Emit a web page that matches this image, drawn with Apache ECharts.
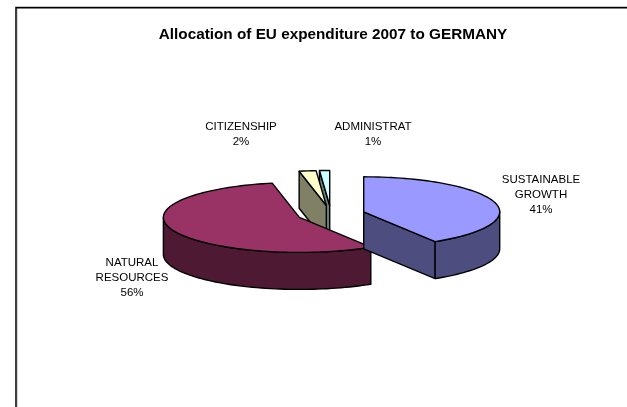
<!DOCTYPE html>
<html>
<head>
<meta charset="utf-8">
<style>html,body{margin:0;padding:0;background:#fff}#c{width:627px;height:407px}</style>
<script src="https://cdn.jsdelivr.net/npm/echarts@6/dist/echarts.min.js"></script>
</head>
<body>
<div id="c"></div>
<script>
// Data (labels show the rounded share)
var titleText = 'Allocation of EU expenditure 2007 to GERMANY';
var categories = ['SUSTAINABLE\nGROWTH', 'NATURAL\nRESOURCES', 'CITIZENSHIP', 'ADMINISTRAT'];
var shares = [41.2, 55.6, 2.0, 1.2];
// Styling and layout
var topColors = ['#9999FF', '#993366', '#FFFFCC', '#CCFFFF'];
var sideColors = ['#4D4D80', '#4D1933', '#808066', '#668080'];
var labelCentres = [[541, 180], [132, 263], [241, 127], [373, 127]];
var drawOrder = [3, 2, 1, 0];   // index -> stacking level
var PIE = {cx: 331, cy: 214.2, rx: 136, ry: 35, depth: 37, explode: 0.25};
var LINE_H = 14.7;

var total = shares.reduce(function (a, b) { return a + b; }, 0);
function rad(d) { return d * Math.PI / 180; }
function point(c, deg, dy) {
  return [c[0] + PIE.rx * Math.sin(rad(deg)), c[1] - PIE.ry * Math.cos(rad(deg)) + (dy || 0)];
}
function arc(c, a, b, dy) {
  var pts = [], n = Math.max(2, Math.ceil(Math.abs(b - a) / 2));
  for (var i = 0; i <= n; i++) pts.push(point(c, a + (b - a) * i / n, dy));
  return pts;
}
function poly(pts, fill, z) {
  return {type: 'polygon', z2: z, shape: {points: pts},
    style: {fill: fill, stroke: '#000', lineWidth: 1.4, lineJoin: 'round'}};
}

function renderItem(params, api) {
  var i = params.dataIndex;
  var share = api.value(0);
  var start = 0;
  for (var k = 0; k < i; k++) start += shares[k];
  var a0 = start / total * 360, a1 = (start + share) / total * 360, mid = (a0 + a1) / 2;
  var c = [PIE.cx + PIE.explode * PIE.rx * Math.sin(rad(mid)),
           PIE.cy - PIE.explode * PIE.ry * Math.cos(rad(mid))];
  var base = drawOrder[i] * 10, d = PIE.depth, kids = [];
  // cut faces seen from the front
  if (Math.sin(rad(a0)) < -1e-6) {
    var p0 = point(c, a0);
    kids.push(poly([c, p0, [p0[0], p0[1] + d], [c[0], c[1] + d]], sideColors[i], base));
  }
  if (Math.sin(rad(a1)) > 1e-6) {
    var p1 = point(c, a1);
    kids.push(poly([c, p1, [p1[0], p1[1] + d], [c[0], c[1] + d]], sideColors[i], base));
  }
  // outer wall on the near half of the rim
  var w0 = Math.max(a0, 90), w1 = Math.min(a1, 270);
  if (w1 > w0) {
    kids.push(poly(arc(c, w0, w1, 0).concat(arc(c, w1, w0, d)), sideColors[i], base + 1));
  }
  // top face
  kids.push(poly([c].concat(arc(c, a0, a1, 0)), topColors[i], base + 2));
  // label
  var lines = categories[i].split('\n').concat([Math.round(share / total * 100) + '%']);
  lines.forEach(function (t, n) {
    kids.push({type: 'text', z2: 100,
      style: {x: labelCentres[i][0], y: labelCentres[i][1] + n * LINE_H, text: t,
        fill: '#000', font: '11.5px "Liberation Sans", Arial, sans-serif',
        align: 'center', verticalAlign: 'middle'}});
  });
  return {type: 'group', children: kids};
}

var chart = echarts.init(document.getElementById('c'), null, {renderer: 'canvas'});
chart.setOption({
  animation: false,
  backgroundColor: '#ffffff',
  title: {
    text: titleText, left: 328, top: 22, textAlign: 'center',
    textStyle: {fontFamily: '"Liberation Sans", Arial, sans-serif', fontWeight: 'bold', fontSize: 15.3, color: '#000'}
  },
  graphic: [
    {type: 'polyline', silent: true, shape: {points: [[17.5, 407], [17.5, 8.5]]}, style: {stroke: '#d8d8d8', lineWidth: 1, fill: null}},
    {type: 'line', silent: true, shape: {x1: 15, y1: 6.5, x2: 627, y2: 6.5}, style: {stroke: '#c8c8c8', lineWidth: 1}},
    {type: 'polyline', silent: true, shape: {points: [[16, 407], [16, 7.75], [627, 7.75]]}, style: {stroke: '#000', lineWidth: 1.5, fill: null}}
  ],
  series: [{
    type: 'custom',
    coordinateSystem: 'none',
    renderItem: renderItem,
    data: shares.map(function (v, i) { return {name: categories[i], value: [v]}; }),
    silent: true
  }]
});
</script>
</body>
</html>
